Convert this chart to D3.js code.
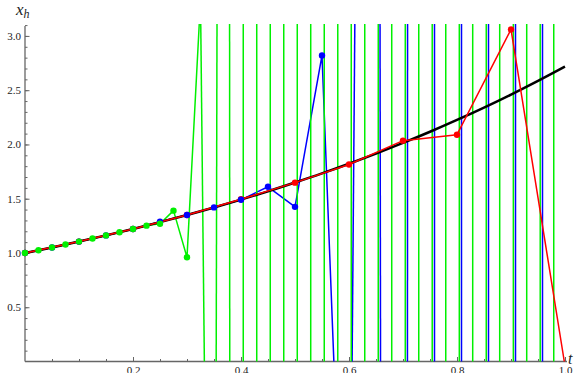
<!DOCTYPE html>
<html>
<head>
<meta charset="utf-8">
<script src="https://cdn.jsdelivr.net/npm/d3@7"></script>
<style>
  body { margin: 0; background: #fff; }
  svg { display: block; }
  .tick text { font-family: "Liberation Serif", "DejaVu Serif", serif; font-size: 11px; fill: #222; }
  .tick line { stroke: #666; }
  .axis-label { font-family: "Liberation Serif", "DejaVu Serif", serif; font-style: italic; fill: #222; }
</style>
</head>
<body>
<div class="chart"></div>
<script>
// step sizes h = 0.1 (red), 0.05 (blue), 0.025 (green), exact curve in black

// exact solution, every 0.05
var exactT = [0, 0.05, 0.1, 0.15, 0.2, 0.25, 0.3, 0.35, 0.4, 0.45, 0.5,
    0.55, 0.6, 0.65, 0.7, 0.75, 0.8, 0.85, 0.9, 0.95, 1.0];
var exactX = [1.0, 1.051, 1.105, 1.162, 1.221, 1.284, 1.350, 1.419, 1.492, 1.568, 1.649,
    1.733, 1.822, 1.916, 2.014, 2.117, 2.226, 2.340, 2.460, 2.586, 2.718];

// h = 0.1
var redT = [0, 0.1, 0.2, 0.3, 0.4, 0.5, 0.6, 0.7, 0.8, 0.9, 1.0];
var redX = [1.0, 1.105, 1.221, 1.35, 1.495, 1.648, 1.815, 2.035, 2.09, 3.06, -0.04];

// h = 0.05 (values past 0.6 are off the chart, estimated)
var blueT = [0, 0.05, 0.1, 0.15, 0.2, 0.25, 0.3, 0.35, 0.4, 0.45, 0.5,
    0.55, 0.6, 0.65, 0.7, 0.75, 0.8, 0.85, 0.9, 0.95, 1.0];
var blueX = [1.0, 1.051, 1.105, 1.162, 1.221, 1.288, 1.35, 1.42, 1.49, 1.61, 1.425,
    2.82, -3.6, 27.5, -136, 690, -3440, 1.72e4, -8.6e4, 4.3e5, -2.15e6];

// h = 0.025 (values past 0.325 are off the chart, estimated)
var greenT = [0, 0.025, 0.05, 0.075, 0.1, 0.125, 0.15, 0.175, 0.2, 0.225, 0.25,
    0.275, 0.3, 0.325, 0.35, 0.375, 0.4, 0.425, 0.45, 0.475, 0.5,
    0.525, 0.55, 0.575, 0.6, 0.625, 0.65, 0.675, 0.7, 0.725, 0.75,
    0.775, 0.8, 0.825, 0.85, 0.875, 0.9, 0.925, 0.95, 0.975, 1.0];
var greenX = [1.0, 1.025, 1.051, 1.078, 1.105, 1.133, 1.162, 1.191, 1.221, 1.252, 1.27,
    1.39, 0.96, 3.33, -8.3, 43, -215, 1075, -5.4e3, 2.7e4, -1.35e5,
    6.7e5, -3.4e6, 1.7e7, -8.4e7, 4.2e8, -2.1e9, 1.05e10, -5.3e10, 2.6e11, -1.3e12,
    6.6e12, -3.3e13, 1.6e14, -8.2e14, 4.1e15, -2.1e16, 1.0e17, -5.1e17, 2.6e18, -1.3e19];

var xTicksMajor = [0.2, 0.4, 0.6, 0.8, 1.0];
var yTicksMajor = [0.5, 1.0, 1.5, 2.0, 2.5, 3.0];

var svgWidth = 579;
var svgHeight = 373;

var svg = d3.select(".chart")
    .append("svg")
    .attr("width", svgWidth)
    .attr("height", svgHeight);

var xScale = d3.scaleLinear().domain([0, 1]).range([25, 565]);
var yScale = d3.scaleLinear().domain([0, 3.11]).range([361.5, 24]);

// clip box in data units
var box = {t0: 0, t1: 1.005, x0: 0, x1: 3.11};

// point on segment a->b at parameter u, snapped to the boundary that cut it
// (huge values lose precision, so the cut coordinate is set exactly)
function cutPoint(a, dt, dx, u, side) {
    var t = a[0] + u * dt;
    var x;
    if (side === 2) x = box.x0;
    else if (side === 3) x = box.x1;
    else x = a[1] + u * dx;
    return [t, x];
}

// Liang-Barsky clip of one segment, returns null if outside
function clipSeg(a, b) {
    var dt = b[0] - a[0], dx = b[1] - a[1];
    var u0 = 0, u1 = 1, s0 = -1, s1 = -1;
    var p = [-dt, dt, -dx, dx];
    var q = [a[0] - box.t0, box.t1 - a[0], a[1] - box.x0, box.x1 - a[1]];
    for (var i = 0; i < 4; i++) {
        if (p[i] === 0) {
            if (q[i] < 0) return null;
        } else {
            var r = q[i] / p[i];
            if (p[i] < 0) { if (r > u1) return null; if (r > u0) { u0 = r; s0 = i; } }
            else { if (r < u0) return null; if (r < u1) { u1 = r; s1 = i; } }
        }
    }
    var start = s0 < 0 ? a.slice() : cutPoint(a, dt, dx, u0, s0);
    var end = s1 < 0 ? b.slice() : cutPoint(a, dt, dx, u1, s1);
    return [start, end, s0 < 0];
}

// break a polyline into visible pieces
function visiblePieces(ts, xs) {
    var pieces = [], cur = null;
    for (var i = 0; i < ts.length - 1; i++) {
        var s = clipSeg([ts[i], xs[i]], [ts[i + 1], xs[i + 1]]);
        if (!s) { cur = null; continue; }
        if (cur && s[2]) {
            cur.push(s[1]);
        } else {
            cur = [s[0], s[1]];
            pieces.push(cur);
        }
        // the piece goes on only if the segment ended at its own endpoint
        if (s[1][0] !== ts[i + 1] || s[1][1] !== xs[i + 1]) cur = null;
    }
    return pieces;
}

var line = d3.line()
    .x(d => xScale(d[0]))
    .y(d => yScale(d[1]));

function drawSeries(ts, xs, color, width) {
    svg.append("g")
        .selectAll("path")
        .data(visiblePieces(ts, xs))
        .enter()
        .append("path")
        .attr("d", line)
        .attr("fill", "none")
        .attr("stroke", color)
        .attr("stroke-width", width)
        .attr("stroke-linejoin", "round");
}

function drawDots(ts, xs, color) {
    var pts = ts.map((t, i) => [t, xs[i]])
        .filter(d => d[1] >= box.x0 && d[1] <= box.x1);
    svg.append("g")
        .selectAll("circle")
        .data(pts)
        .enter()
        .append("circle")
        .attr("cx", d => xScale(d[0]))
        .attr("cy", d => yScale(d[1]))
        .attr("r", 3.2)
        .attr("fill", color);
}

// axes, ticks point inward
var xMinor = d3.range(0.05, 1.0001, 0.05);
var yMinor = d3.range(0.1, 3.1001, 0.1);

svg.append("g")
    .attr("transform", `translate(0, ${yScale(0)})`)
    .call(d3.axisBottom(xScale).tickValues(xMinor).tickSizeInner(-2.5).tickSizeOuter(0).tickFormat(""))
    .call(g => g.select(".domain").remove());

svg.append("g")
    .attr("transform", `translate(0, ${yScale(0)})`)
    .call(d3.axisBottom(xScale).tickValues(xTicksMajor).tickSizeInner(-4.5).tickSizeOuter(0)
        .tickPadding(5).tickFormat(d3.format(".1f")))
    .call(g => g.select(".domain").remove());

svg.append("g")
    .attr("transform", `translate(${xScale(0)}, 0)`)
    .call(d3.axisLeft(yScale).tickValues(yMinor).tickSizeInner(-2.5).tickSizeOuter(0).tickFormat(""))
    .call(g => g.select(".domain").remove());

svg.append("g")
    .attr("transform", `translate(${xScale(0)}, 0)`)
    .call(d3.axisLeft(yScale).tickValues(yTicksMajor).tickSizeInner(-4.5).tickSizeOuter(0)
        .tickPadding(4).tickFormat(d3.format(".1f")))
    .call(g => g.select(".domain").remove());

svg.append("line")
    .attr("x1", xScale(0)).attr("x2", xScale(1) + 2)
    .attr("y1", yScale(0)).attr("y2", yScale(0))
    .attr("stroke", "#666").attr("stroke-width", 1.3);

svg.append("line")
    .attr("x1", xScale(0)).attr("x2", xScale(0))
    .attr("y1", yScale(0)).attr("y2", 26)
    .attr("stroke", "#666").attr("stroke-width", 1.3);

// lines
drawSeries(blueT, blueX, "#0000ff", 1.5);
drawSeries(greenT, greenX, "#00f000", 1.5);

svg.append("path")
    .datum(exactT.map((t, i) => [t, exactX[i]]))
    .attr("d", line.curve(d3.curveMonotoneX))
    .attr("fill", "none")
    .attr("stroke", "#000")
    .attr("stroke-width", 2.5);
line.curve(d3.curveLinear);

drawSeries(redT, redX, "#ff0000", 1.5);

// points
drawDots(redT, redX, "#ff0000");
drawDots(blueT, blueX, "#0000ff");
drawDots(greenT, greenX, "#00f000");

// axis labels
var yLab = svg.append("text")
    .attr("class", "axis-label")
    .attr("x", 16)
    .attr("y", 15)
    .style("font-size", "17px")
    .text("x");
yLab.append("tspan")
    .attr("dy", 3)
    .style("font-size", "12px")
    .text("h");

svg.append("text")
    .attr("class", "axis-label")
    .attr("x", 568)
    .attr("y", 364)
    .style("font-size", "16px")
    .text("t");
</script>
</body>
</html>
